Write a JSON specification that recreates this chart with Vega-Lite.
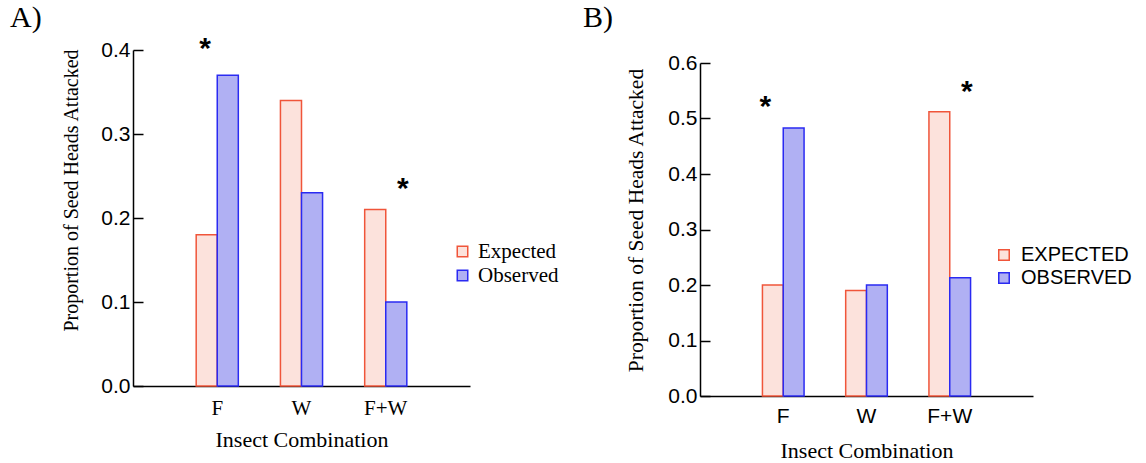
{
  "$schema": "https://vega.github.io/schema/vega-lite/v6.json",
  "background": "white",
  "padding": {"left": 10, "top": 2, "right": 0, "bottom": 0},
  "spacing": 24,
  "config": {"view": {"stroke": null}},
  "resolve": {"scale": {"fill": "independent", "stroke": "independent"}, "legend": {"fill": "independent", "stroke": "independent"}},
  "hconcat": [
    {
      "width": 337,
      "height": 336,
      "title": {"text": "A)", "anchor": "start", "frame": "group", "dx": -123, "offset": 1, "font": "Liberation Serif", "fontSize": 30, "fontWeight": "normal", "color": "black"},
      "encoding": {
        "x": {"field": "combo", "type": "nominal", "sort": ["F", "W", "F+W"], "scale": {"paddingInner": 0.5, "paddingOuter": 0.75},
          "axis": {"title": "Insect Combination", "labelAngle": 0, "ticks": false, "domainColor": "black", "domainWidth": 1.5, "labelFont": "Liberation Serif", "labelFontSize": 21, "labelColor": "black", "labelPadding": 11, "titleFont": "Liberation Serif", "titleFontSize": 22, "titleFontWeight": "normal", "titleColor": "black", "titlePadding": 11}},
        "y": {"field": "value", "type": "quantitative", "scale": {"domain": [0, 0.4]},
          "axis": {"title": "Proportion of Seed Heads Attacked", "values": [0, 0.1, 0.2, 0.3, 0.4], "format": ".1f", "grid": false, "domainColor": "black", "domainWidth": 1.5, "tickColor": "black", "tickWidth": 1.5, "tickSize": -10, "labelPadding": 13, "labelFont": "Liberation Sans", "labelFontSize": 21, "labelColor": "black", "titleFont": "Liberation Serif", "titleFontSize": 20, "titleFontWeight": "normal", "titleColor": "black", "titleBaseline": "alphabetic", "titleX": -56, "titleY": 140}}
      },
      "layer": [
        {
          "data": {"values": [
            {"combo": "F", "group": "Expected", "value": 0.18},
            {"combo": "F", "group": "Observed", "value": 0.37},
            {"combo": "W", "group": "Expected", "value": 0.34},
            {"combo": "W", "group": "Observed", "value": 0.23},
            {"combo": "F+W", "group": "Expected", "value": 0.21},
            {"combo": "F+W", "group": "Observed", "value": 0.10}
          ]},
          "mark": {"type": "bar", "strokeWidth": 1.5},
          "encoding": {
            "xOffset": {"field": "group", "type": "nominal", "scale": {"paddingInner": 0, "paddingOuter": 0}},
            "fill": {"field": "group", "type": "nominal", "scale": {"domain": ["Expected", "Observed"], "range": ["#fce2dc", "#b0b0f3"]},
              "legend": {"orient": "none", "legendX": 319, "legendY": 191, "title": null, "symbolType": "square", "symbolSize": 110, "symbolStrokeWidth": 1.5, "labelFont": "Liberation Serif", "labelFontSize": 21, "labelColor": "black", "labelOffset": 5, "rowPadding": 2}},
            "stroke": {"field": "group", "type": "nominal", "scale": {"domain": ["Expected", "Observed"], "range": ["#f0553a", "#2a2af2"]},
              "legend": {"orient": "none", "legendX": 319, "legendY": 191, "title": null, "symbolType": "square", "symbolSize": 110, "symbolStrokeWidth": 1.5, "labelFont": "Liberation Serif", "labelFontSize": 21, "labelColor": "black", "labelOffset": 5, "rowPadding": 2}}
          }
        },
        {
          "data": {"values": [
            {"combo": "F", "pos": 0.21, "value": 0.391, "label": "*"},
            {"combo": "F+W", "pos": 0.905, "value": 0.224, "label": "*"}
          ]},
          "mark": {"type": "text", "font": "Liberation Sans", "fontSize": 30, "fontWeight": "bold", "baseline": "alphabetic", "align": "center", "color": "black"},
          "encoding": {
            "xOffset": {"field": "pos", "type": "quantitative", "scale": {"domain": [0, 1]}},
            "text": {"field": "label"}
          }
        }
      ],
      "resolve": {"scale": {"xOffset": "independent"}}
    },
    {
      "width": 333,
      "height": 346,
      "title": {"text": "B)", "anchor": "start", "frame": "group", "dx": -117, "offset": 17, "font": "Liberation Serif", "fontSize": 30, "fontWeight": "normal", "color": "black"},
      "encoding": {
        "x": {"field": "combo", "type": "nominal", "sort": ["F", "W", "F+W"], "scale": {"paddingInner": 0.5, "paddingOuter": 0.75},
          "axis": {"title": "Insect Combination", "labelAngle": 0, "ticks": false, "domainColor": "black", "domainWidth": 1.5, "labelFont": "Liberation Sans", "labelFontSize": 21, "labelColor": "black", "labelPadding": 9, "titleFont": "Liberation Serif", "titleFontSize": 22, "titleFontWeight": "normal", "titleColor": "black", "titlePadding": 14}},
        "y": {"field": "value", "type": "quantitative", "scale": {"domain": [0, 0.6], "range": [346, 13]},
          "axis": {"title": "Proportion of Seed Heads Attacked", "values": [0, 0.1, 0.2, 0.3, 0.4, 0.5, 0.6], "format": ".1f", "grid": false, "domainColor": "black", "domainWidth": 1.5, "tickColor": "black", "tickWidth": 1.5, "tickSize": -10, "labelPadding": 13, "labelFont": "Liberation Sans", "labelFontSize": 21, "labelColor": "black", "titleFont": "Liberation Serif", "titleFontSize": 21.5, "titleFontWeight": "normal", "titleColor": "black", "titleBaseline": "alphabetic", "titleX": -58, "titleY": 170}}
      },
      "layer": [
        {
          "data": {"values": [
            {"combo": "F", "group": "EXPECTED", "value": 0.20},
            {"combo": "F", "group": "OBSERVED", "value": 0.483},
            {"combo": "W", "group": "EXPECTED", "value": 0.19},
            {"combo": "W", "group": "OBSERVED", "value": 0.20},
            {"combo": "F+W", "group": "EXPECTED", "value": 0.512},
            {"combo": "F+W", "group": "OBSERVED", "value": 0.213}
          ]},
          "mark": {"type": "bar", "strokeWidth": 1.5},
          "encoding": {
            "xOffset": {"field": "group", "type": "nominal", "scale": {"paddingInner": 0, "paddingOuter": 0}},
            "fill": {"field": "group", "type": "nominal", "scale": {"domain": ["EXPECTED", "OBSERVED"], "range": ["#fce2dc", "#b0b0f3"]},
              "legend": {"orient": "none", "legendX": 294, "legendY": 195, "title": null, "symbolType": "square", "symbolSize": 110, "symbolStrokeWidth": 1.5, "labelFont": "Liberation Sans", "labelFontSize": 20, "labelColor": "black", "labelOffset": 7, "rowPadding": 3}},
            "stroke": {"field": "group", "type": "nominal", "scale": {"domain": ["EXPECTED", "OBSERVED"], "range": ["#f0553a", "#2a2af2"]},
              "legend": {"orient": "none", "legendX": 294, "legendY": 195, "title": null, "symbolType": "square", "symbolSize": 110, "symbolStrokeWidth": 1.5, "labelFont": "Liberation Sans", "labelFontSize": 20, "labelColor": "black", "labelOffset": 7, "rowPadding": 3}}
          }
        },
        {
          "data": {"values": [
            {"combo": "F", "pos": 0.07, "value": 0.505, "label": "*"},
            {"combo": "F+W", "pos": 0.91, "value": 0.532, "label": "*"}
          ]},
          "mark": {"type": "text", "font": "Liberation Sans", "fontSize": 30, "fontWeight": "bold", "baseline": "alphabetic", "align": "center", "color": "black"},
          "encoding": {
            "xOffset": {"field": "pos", "type": "quantitative", "scale": {"domain": [0, 1]}},
            "text": {"field": "label"}
          }
        }
      ],
      "resolve": {"scale": {"xOffset": "independent"}}
    }
  ]
}
